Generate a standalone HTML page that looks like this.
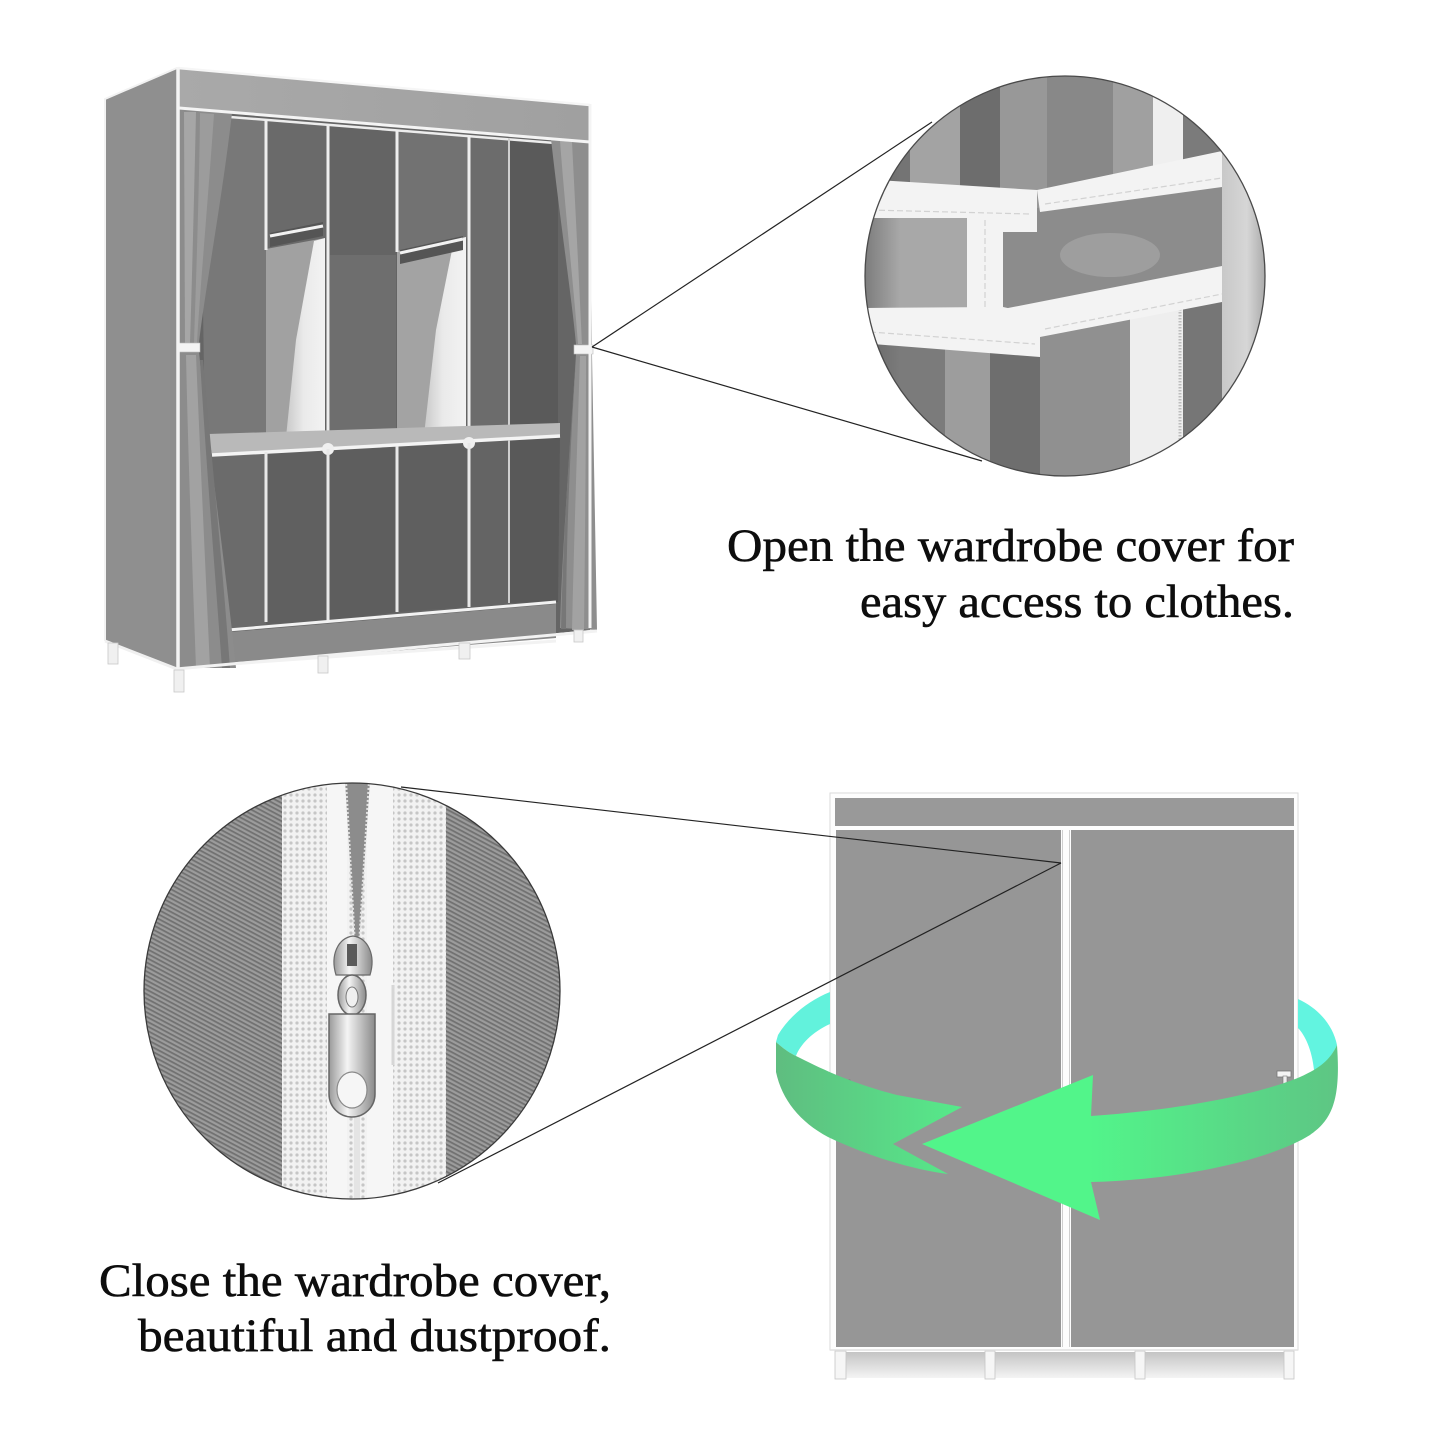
<!DOCTYPE html>
<html><head><meta charset="utf-8"><style>
html,body{margin:0;padding:0;background:#fff;}
svg{display:block;}
</style></head><body>
<svg width="1445" height="1445" viewBox="0 0 1445 1445" xmlns="http://www.w3.org/2000/svg">
<defs>
 <pattern id="twill" width="4" height="4" patternUnits="userSpaceOnUse" patternTransform="rotate(28)">
  <rect width="4" height="4" fill="#9c9c9c"/><rect width="4" height="1.8" fill="#717171"/>
 </pattern>
 <pattern id="dots" width="6" height="6" patternUnits="userSpaceOnUse">
  <rect width="6" height="6" fill="#f2f2f2"/><circle cx="3" cy="3" r="1.6" fill="#c6c6c6"/>
 </pattern>
 <clipPath id="c1"><circle cx="1065" cy="276" r="200"/></clipPath>
 <clipPath id="c2"><circle cx="352" cy="991" r="208"/></clipPath>
 <linearGradient id="gR" gradientUnits="userSpaceOnUse" x1="1090" y1="0" x2="1340" y2="0">
  <stop offset="0" stop-color="#52f58a"/><stop offset="1" stop-color="#5ec584"/>
 </linearGradient>
 <linearGradient id="gL" gradientUnits="userSpaceOnUse" x1="776" y1="0" x2="962" y2="0">
  <stop offset="0" stop-color="#5fbd80"/><stop offset="1" stop-color="#56ea8a"/>
 </linearGradient>
 <linearGradient id="pw" x1="0" y1="0" x2="1" y2="0">
  <stop offset="0" stop-color="#c9c9c9"/><stop offset="0.45" stop-color="#eaeaea"/><stop offset="1" stop-color="#f3f3f3"/>
 </linearGradient>
 <linearGradient id="band" x1="0" y1="0" x2="1" y2="0">
  <stop offset="0" stop-color="#a9a9a9"/><stop offset="1" stop-color="#a0a0a0"/>
 </linearGradient>
 <linearGradient id="legs" x1="0" y1="0" x2="0" y2="1">
  <stop offset="0" stop-color="#c4c4c4"/><stop offset="1" stop-color="#f4f4f4"/>
 </linearGradient>
 <linearGradient id="metal" x1="0" y1="0" x2="1" y2="0">
  <stop offset="0" stop-color="#9a9a9a"/><stop offset="0.4" stop-color="#f4f4f4"/><stop offset="1" stop-color="#8a8a8a"/>
 </linearGradient>
 <linearGradient id="rlight" x1="0" y1="0" x2="1" y2="0">
  <stop offset="0" stop-color="#c8c8c8"/><stop offset="0.5" stop-color="#d6d6d6"/><stop offset="1" stop-color="#9a9a9a"/>
 </linearGradient>
 <linearGradient id="edgeL" x1="0" y1="0" x2="1" y2="0">
  <stop offset="0" stop-color="#555" stop-opacity="0.6"/><stop offset="1" stop-color="#555" stop-opacity="0"/>
 </linearGradient>
</defs>

<rect width="1445" height="1445" fill="#fff"/>

<!-- ============ TOP WARDROBE (open) ============ -->
<polygon points="105,99 177,68 177,668 105,641" fill="#8f8f8f"/>
<polyline points="105,641 105,99 177,68" fill="none" stroke="#f2f2f2" stroke-width="2"/>
<line x1="105" y1="641" x2="177" y2="669" stroke="#f0f0f0" stroke-width="3"/>

<!-- interior -->
<polygon points="180,108 590,142 590,630 180,668" fill="#656565"/>
<polygon points="200,113 266,119 266,437 205,437" fill="#787878"/>
<polygon points="266,119 328,124 328,240 266,250" fill="#6a6a6a"/>
<polygon points="328,124 397,130 397,440 328,445" fill="#646464"/>
<rect x="330" y="255" width="66" height="180" fill="#6e6e6e"/>
<polygon points="397,130 469,135 469,238 397,252" fill="#727272"/>
<polygon points="469,135 509,138 509,438 469,440" fill="#6c6c6c"/>
<polygon points="509,138 558,142 558,430 509,432" fill="#5a5a5a"/>
<polygon points="205,455 266,452 266,624 225,630" fill="#6b6b6b"/>
<polygon points="266,452 328,449 328,622 266,624" fill="#606060"/>
<polygon points="328,449 397,446 397,612 328,622" fill="#5e5e5e"/>
<polygon points="397,446 469,443 469,607 397,612" fill="#5f5f5f"/>
<polygon points="469,443 509,440 509,603 469,607" fill="#646464"/>
<polygon points="509,440 560,437 558,602 509,603" fill="#595959"/>

<!-- light panels -->
<polygon points="266,249 325,238 325,437 266,437" fill="#a1a1a1"/>
<polygon points="314,241 325,238 325,437 286,437 296,340" fill="url(#pw)"/>
<polygon points="397,251 466,237 466,435 397,435" fill="#a3a3a3"/>
<polygon points="454,240 466,237 466,435 424,435 436,330" fill="url(#pw)"/>

<!-- hanging rods -->
<polygon points="270,233 323,222 323,236 270,247" fill="#555"/>
<line x1="270" y1="236" x2="323" y2="226" stroke="#f2f2f2" stroke-width="3"/>
<polygon points="400,250 463,236 463,250 400,264" fill="#555"/>
<line x1="400" y1="253" x2="463" y2="239" stroke="#f2f2f2" stroke-width="3"/>

<!-- top cubby rail -->
<line x1="230" y1="117" x2="555" y2="143" stroke="#ededed" stroke-width="2.5"/>

<!-- poles upper -->
<g stroke="#eeeeee" stroke-width="3">
 <line x1="266" y1="119" x2="266" y2="250"/>
 <line x1="328" y1="124" x2="328" y2="447"/>
 <line x1="397" y1="130" x2="397" y2="252"/>
 <line x1="469" y1="135" x2="469" y2="442"/>
</g>
<line x1="509" y1="138" x2="509" y2="431" stroke="#d0d0d0" stroke-width="2"/>

<!-- shelf -->
<polygon points="208,434 560,423 560,437 212,455" fill="#b9b9b9"/>
<line x1="212" y1="455" x2="560" y2="436" stroke="#f4f4f4" stroke-width="3.5"/>
<circle cx="328" cy="449" r="6" fill="#f0f0f0"/>
<circle cx="469" cy="443" r="6" fill="#f0f0f0"/>

<!-- poles lower -->
<g stroke="#e8e8e8" stroke-width="3">
 <line x1="266" y1="452" x2="266" y2="622"/>
 <line x1="328" y1="449" x2="328" y2="622"/>
 <line x1="397" y1="446" x2="397" y2="612"/>
 <line x1="469" y1="443" x2="469" y2="607"/>
</g>
<line x1="509" y1="440" x2="509" y2="603" stroke="#cfcfcf" stroke-width="2"/>

<!-- bottom -->
<line x1="228" y1="630" x2="556" y2="602" stroke="#f2f2f2" stroke-width="3"/>
<polygon points="230,632 556,604 556,638 230,664" fill="#8a8a8a"/>
<line x1="230" y1="664" x2="556" y2="641" stroke="#f2f2f2" stroke-width="3"/>

<!-- curtains -->
<path d="M179,108 L232,113 C222,200 205,290 199,343 L199,352 C210,460 226,570 236,668 L179,668 Z" fill="#8c8c8c"/>
<path d="M184,112 L196,112 C194,200 192,280 190,343 L185,343 Z" fill="#a6a6a6"/>
<path d="M200,113 L214,114 C208,200 200,290 197,343 L194,343 C196,280 199,200 200,113 Z" fill="#9c9c9c"/>
<path d="M186,355 L196,355 C200,450 205,560 210,668 L196,668 C192,560 188,450 186,355 Z" fill="#a2a2a2"/>
<path d="M203,360 C212,460 222,560 230,668 L222,668 C214,560 206,460 200,360 Z" fill="#777"/>

<path d="M551,139 L590,142 L592,354 L597,630 L560,628 C562,550 570,450 576,354 L576,344 C572,300 560,220 551,139 Z" fill="#8e8e8e"/>
<path d="M560,141 L572,142 C576,220 580,300 582,344 L578,344 C574,290 566,220 560,141 Z" fill="#a5a5a5"/>
<path d="M580,356 L586,356 C586,450 585,540 584,630 L572,630 C574,540 577,450 580,356 Z" fill="#a2a2a2"/>
<path d="M576,358 C570,450 566,540 566,629 L561,629 C563,540 569,450 576,358 Z" fill="#777"/>

<!-- ties -->
<rect x="179" y="343" width="21" height="9" fill="#f4f4f4" stroke="#bbb" stroke-width="0.6"/>
<rect x="574" y="345" width="19" height="9" fill="#f4f4f4" stroke="#bbb" stroke-width="0.6"/>

<!-- top band and frame -->
<polygon points="179,68 590,105 590,141 179,107" fill="url(#band)"/>
<line x1="178" y1="68" x2="590" y2="105" stroke="#f6f6f6" stroke-width="2.5"/>
<line x1="179" y1="108" x2="590" y2="142" stroke="#f4f4f4" stroke-width="3"/>
<line x1="178" y1="67" x2="178" y2="669" stroke="#f4f4f4" stroke-width="3.5"/>
<line x1="590" y1="104" x2="590" y2="628" stroke="#f4f4f4" stroke-width="3"/>
<line x1="176" y1="669" x2="597" y2="631" stroke="#f2f2f2" stroke-width="3"/>

<!-- feet -->
<g fill="#f0f0f0" stroke="#c8c8c8" stroke-width="0.8">
 <rect x="108" y="643" width="10" height="21"/>
 <rect x="174" y="670" width="10" height="22"/>
 <rect x="318" y="656" width="10" height="17"/>
 <rect x="459" y="643" width="11" height="16"/>
 <rect x="574" y="630" width="9" height="12"/>
</g>

<!-- connector lines top -->
<line x1="592" y1="347" x2="932" y2="122" stroke="#222" stroke-width="1.2"/>
<line x1="592" y1="347" x2="982" y2="461" stroke="#222" stroke-width="1.2"/>

<!-- ============ TOP-RIGHT CIRCLE (tie detail) ============ -->
<g clip-path="url(#c1)">
 <rect x="860" y="70" width="410" height="412" fill="#8a8a8a"/>
 <!-- upper folds -->
 <rect x="860" y="70" width="50" height="160" fill="#747474"/>
 <rect x="910" y="70" width="50" height="160" fill="#a3a3a3"/>
 <rect x="960" y="70" width="40" height="160" fill="#6d6d6d"/>
 <rect x="1000" y="70" width="47" height="160" fill="#989898"/>
 <rect x="1047" y="70" width="66" height="160" fill="#888"/>
 <rect x="1113" y="70" width="40" height="160" fill="#a0a0a0"/>
 <rect x="1153" y="70" width="30" height="160" fill="#efefef"/>
 <rect x="1183" y="70" width="40" height="160" fill="#7b7b7b"/>
 <rect x="1222" y="70" width="50" height="412" fill="url(#rlight)"/>
 <!-- lower folds -->
 <rect x="860" y="300" width="85" height="182" fill="#7b7b7b"/>
 <rect x="945" y="300" width="45" height="182" fill="#9d9d9d"/>
 <rect x="990" y="300" width="50" height="182" fill="#6e6e6e"/>
 <rect x="1040" y="300" width="90" height="182" fill="#909090"/>
 <rect x="1130" y="300" width="53" height="182" fill="#eeeeee"/>
 <line x1="1180" y1="300" x2="1180" y2="482" stroke="#bdbdbd" stroke-width="3" stroke-dasharray="1.5 1.5"/>
 <rect x="1183" y="300" width="39" height="182" fill="#767676"/>
 <!-- middle zone -->
 <rect x="860" y="215" width="110" height="100" fill="#a8a8a8"/>
 <polygon points="1003,215 1222,170 1222,285 1003,320" fill="#8c8c8c"/>
 <ellipse cx="1110" cy="255" rx="50" ry="22" fill="#9e9e9e"/>
 <rect x="860" y="70" width="40" height="412" fill="url(#edgeL)"/>
 <!-- straps -->
 <g fill="#f3f3f3">
  <polygon points="1037,190 1222,151 1222,187 1040,212"/>
  <polygon points="860,179 1037,190 1037,232 1003,232 1003,218 860,218"/>
  <rect x="967" y="217" width="36" height="96"/>
  <polygon points="1003,309 1222,266 1222,302 1040,337"/>
  <polygon points="860,308 1003,307 1040,315 1040,357 860,343"/>
 </g>
 <g stroke="#d2d2d2" stroke-width="1.2" stroke-dasharray="6 3" fill="none">
  <line x1="870" y1="210" x2="1030" y2="214"/>
  <line x1="1045" y1="204" x2="1222" y2="178"/>
  <line x1="870" y1="332" x2="1035" y2="344"/>
  <line x1="1045" y1="329" x2="1222" y2="294"/>
  <line x1="985" y1="220" x2="985" y2="310"/>
 </g>
</g>
<circle cx="1065" cy="276" r="200" fill="none" stroke="#4a4a4a" stroke-width="1.3"/>

<!-- top text -->
<text x="727" y="561" font-family="Liberation Serif, serif" font-size="47" fill="#0d0d0d" stroke="#0d0d0d" stroke-width="0.6" textLength="567" lengthAdjust="spacingAndGlyphs">Open the wardrobe cover for</text>
<text x="860" y="617" font-family="Liberation Serif, serif" font-size="47" fill="#0d0d0d" stroke="#0d0d0d" stroke-width="0.6" textLength="434" lengthAdjust="spacingAndGlyphs">easy access to clothes.</text>

<!-- ============ BOTTOM-LEFT CIRCLE (zipper) ============ -->
<g clip-path="url(#c2)">
 <rect x="140" y="780" width="425" height="425" fill="url(#twill)"/>
 <rect x="282" y="780" width="164" height="425" fill="url(#dots)"/>
 <rect x="327" y="780" width="20" height="425" fill="#f6f6f6"/>
 <rect x="367" y="780" width="26" height="425" fill="#f6f6f6"/>
 <polygon points="345,780 370,780 359,945 355,945" fill="#8c8c8c"/>
 <line x1="346" y1="780" x2="355" y2="945" stroke="#e2e2e2" stroke-width="2" stroke-dasharray="2 2"/>
 <line x1="369" y1="780" x2="359" y2="945" stroke="#e2e2e2" stroke-width="2" stroke-dasharray="2 2"/>
 <line x1="357" y1="1000" x2="357" y2="1205" stroke="#e4e4e4" stroke-width="6"/>
 <line x1="393" y1="985" x2="393" y2="1065" stroke="#d6d6d6" stroke-width="3"/>
 <!-- slider -->
 <path d="M336,975 C330,955 338,938 353,936 C368,938 376,955 370,975 Z" fill="url(#metal)" stroke="#6a6a6a" stroke-width="1.2"/>
 <rect x="347" y="944" width="10" height="22" fill="#5a5a5a"/>
 <ellipse cx="352" cy="995" rx="14" ry="20" fill="url(#metal)" stroke="#666" stroke-width="1.5"/>
 <ellipse cx="352" cy="997" rx="6" ry="10" fill="#f0f0f0" stroke="#777" stroke-width="1"/>
 <!-- pull tab -->
 <path d="M329,1014 L375,1014 L375,1094 A23,23 0 0 1 329,1094 Z" fill="url(#metal)" stroke="#666" stroke-width="1.5"/>
 <ellipse cx="352" cy="1090" rx="15" ry="18" fill="#f6f6f6" stroke="#8a8a8a" stroke-width="1.2"/>
</g>
<circle cx="352" cy="991" r="208" fill="none" stroke="#3a3a3a" stroke-width="1.3"/>

<!-- bottom text -->
<text x="99" y="1296" font-family="Liberation Serif, serif" font-size="47" fill="#0d0d0d" stroke="#0d0d0d" stroke-width="0.6" textLength="512" lengthAdjust="spacingAndGlyphs">Close the wardrobe cover,</text>
<text x="138" y="1351" font-family="Liberation Serif, serif" font-size="47" fill="#0d0d0d" stroke="#0d0d0d" stroke-width="0.6" textLength="473" lengthAdjust="spacingAndGlyphs">beautiful and dustproof.</text>

<!-- ============ BOTTOM-RIGHT WARDROBE (closed) ============ -->
<rect x="830" y="793" width="468" height="557" fill="#fdfdfd" stroke="#dadada" stroke-width="1"/>
<rect x="835" y="798" width="459" height="28" fill="#999999"/>
<rect x="836" y="830" width="225" height="517" fill="#969696"/>
<rect x="1071" y="830" width="223" height="517" fill="#969696"/>
<line x1="1062.5" y1="830" x2="1062.5" y2="1347" stroke="#cfcfcf" stroke-width="1"/>
<line x1="1069.5" y1="830" x2="1069.5" y2="1347" stroke="#cfcfcf" stroke-width="1"/>
<rect x="842" y="1352" width="446" height="26" fill="url(#legs)"/>
<g fill="#f6f6f6" stroke="#c6c6c6" stroke-width="0.8">
 <rect x="835" y="1351" width="11" height="28"/>
 <rect x="985" y="1351" width="10" height="28"/>
 <rect x="1135" y="1351" width="10" height="28"/>
 <rect x="1284" y="1351" width="10" height="28"/>
</g>
<line x1="830" y1="1350" x2="1298" y2="1350" stroke="#e0e0e0" stroke-width="1.5"/>
<!-- handles -->
<rect x="838" y="1080" width="12" height="6" fill="#f4f4f4" stroke="#777" stroke-width="0.8"/>
<rect x="1277" y="1071" width="14" height="6" fill="#f4f4f4" stroke="#777" stroke-width="0.8"/>
<rect x="1283" y="1076" width="4" height="10" fill="#eee" stroke="#777" stroke-width="0.6"/>

<!-- bottom connector lines -->
<line x1="401" y1="787" x2="1061" y2="863" stroke="#222" stroke-width="1.2"/>
<line x1="438" y1="1183" x2="1061" y2="863" stroke="#222" stroke-width="1.2"/>

<!-- green rotation arrow -->
<path d="M830,992 C810,1000 790,1015 778,1035 L776,1042 C785,1050 790,1053 796,1056 C800,1045 812,1032 830,1024 Z" fill="#62f2dc"/>
<path d="M1298,999 C1318,1008 1333,1025 1337,1045 C1330,1060 1322,1066 1314,1070 C1312,1050 1305,1035 1298,1028 Z" fill="#62f4e0"/>
<path d="M776,1042 C785,1050 790,1053 796,1056 C820,1068 850,1083 897,1095 L962,1107 L893,1144 L948,1174 C915,1170 870,1157 828,1137 C800,1122 782,1100 776,1072 Z" fill="url(#gL)"/>
<path d="M1337,1045 C1330,1060 1320,1068 1300,1077 C1260,1094 1180,1110 1091,1116 L1093,1075 L922,1144 L1100,1220 L1091,1182 C1180,1180 1270,1160 1310,1135 C1332,1120 1341,1100 1337,1045 Z" fill="url(#gR)"/>

</svg>
</body></html>
